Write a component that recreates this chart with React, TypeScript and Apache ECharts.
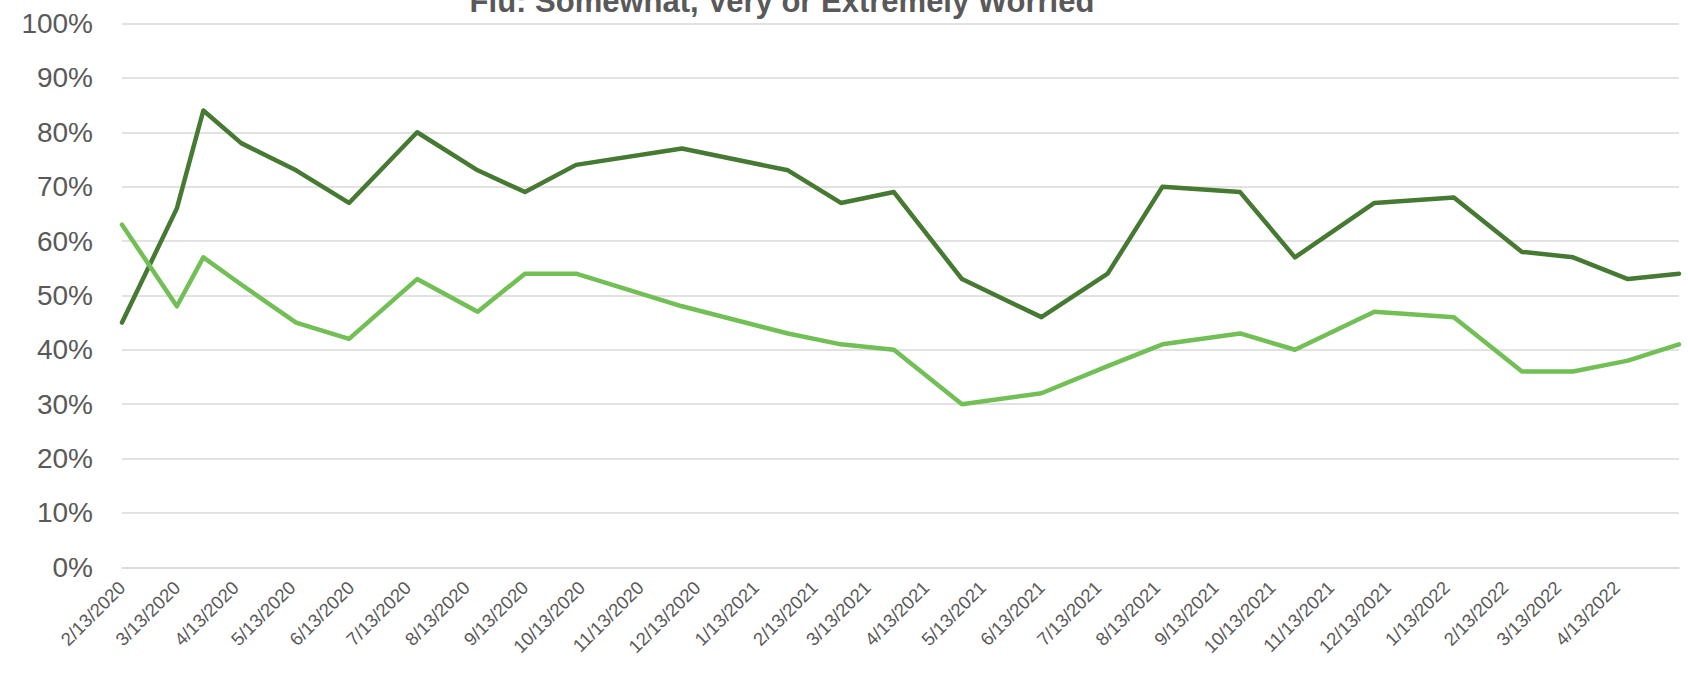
import React, { useEffect, useRef } from "react";
import * as echarts from "echarts";

const titleText = "Flu: Somewhat, Very or Extremely Worried";

const dates = [
  "2020-02-13", "2020-03-13", "2020-03-27", "2020-04-16", "2020-05-15", "2020-06-12",
  "2020-07-18", "2020-08-19", "2020-09-13", "2020-10-10", "2020-12-05", "2021-01-30",
  "2021-02-27", "2021-03-27", "2021-05-02", "2021-06-13", "2021-07-18", "2021-08-16",
  "2021-09-26", "2021-10-25", "2021-12-06", "2022-01-17", "2022-02-22", "2022-03-21",
  "2022-04-19", "2022-05-16",
];

const seriesDark = [45, 66, 84, 78, 73, 67, 80, 73, 69, 74, 77, 73, 67, 69, 53, 46, 54, 70, 69, 57, 67, 68, 58, 57, 53, 54];
const seriesLight = [63, 48, 57, 52, 45, 42, 53, 47, 54, 54, 48, 43, 41, 40, 30, 32, 37, 41, 43, 40, 47, 46, 36, 36, 38, 41];

const tickLabels = [
  "2/13/2020", "3/13/2020", "4/13/2020", "5/13/2020", "6/13/2020", "7/13/2020", "8/13/2020",
  "9/13/2020", "10/13/2020", "11/13/2020", "12/13/2020", "1/13/2021", "2/13/2021", "3/13/2021",
  "4/13/2021", "5/13/2021", "6/13/2021", "7/13/2021", "8/13/2021", "9/13/2021", "10/13/2021",
  "11/13/2021", "12/13/2021", "1/13/2022", "2/13/2022", "3/13/2022", "4/13/2022",
];

const DAY = 86400000;
const utcDay = (y: number, m: number, d: number) => Math.round(Date.UTC(y, m - 1, d) / DAY);
const isoToDay = (s: string) => {
  const [y, m, d] = s.split("-").map(Number);
  return utcDay(y, m, d);
};
const mdyToDay = (s: string) => {
  const [m, d, y] = s.split("/").map(Number);
  return utcDay(y, m, d);
};
const fmt = (v: number) => {
  const d = new Date(Math.round(v) * DAY);
  return `${d.getUTCMonth() + 1}/${d.getUTCDate()}/${d.getUTCFullYear()}`;
};

export default function App() {
  const ref = useRef<HTMLDivElement>(null);
  useEffect(() => {
    if (!ref.current) return;
    const chart = echarts.init(ref.current, null, { renderer: "svg" });
    const days = dates.map(isoToDay);
    const labelValues = tickLabels.map(mdyToDay);
    const font = "'Liberation Sans', Arial, sans-serif";
    chart.setOption({
      animation: false,
      backgroundColor: "#ffffff",
      title: {
        text: titleText,
        left: 777,
        textAlign: "center",
        top: -19,
        textStyle: { fontFamily: font, fontSize: 31, fontWeight: "bold", color: "#595959" },
      },
      grid: { left: 122, right: 9, top: 23.5, bottom: 106.7, containLabel: false },
      xAxis: {
        type: "value",
        min: days[0],
        max: days[days.length - 1],
        axisLine: { show: true, lineStyle: { color: "#D9D9D9", width: 1.5 } },
        axisTick: { show: false },
        splitLine: { show: false },
        axisLabel: {
          customValues: labelValues,
          formatter: (v: number) => fmt(v),
          rotate: 45,
          margin: 17,
          fontFamily: font,
          fontSize: 18.5,
          color: "#595959",
          hideOverlap: false,
        },
      },
      yAxis: {
        type: "value",
        min: 0,
        max: 100,
        interval: 10,
        axisLine: { show: false },
        axisTick: { show: false },
        splitLine: { lineStyle: { color: "#D9D9D9", width: 1.5 } },
        axisLabel: {
          formatter: "{value}%",
          margin: 29,
          fontFamily: font,
          fontSize: 28,
          color: "#595959",
        },
      },
      series: [
        {
          name: "Series 1",
          type: "line",
          data: days.map((t, i) => [t, seriesDark[i]]),
          symbol: "none",
          lineStyle: { color: "#467A32", width: 4.5, cap: "round", join: "round" },
          itemStyle: { color: "#467A32" },
        },
        {
          name: "Series 2",
          type: "line",
          data: days.map((t, i) => [t, seriesLight[i]]),
          symbol: "none",
          lineStyle: { color: "#72BF56", width: 4.5, cap: "round", join: "round" },
          itemStyle: { color: "#72BF56" },
        },
      ],
    });
    return () => chart.dispose();
  }, []);
  return (
    <div
      ref={ref}
      style={{ position: "fixed", left: 0, top: 0, width: 1688, height: 674 }}
    />
  );
}
